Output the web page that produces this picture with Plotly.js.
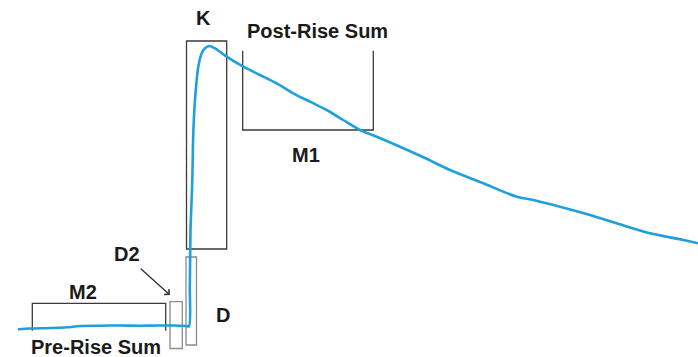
<!DOCTYPE html>
<html>
<head>
<meta charset="utf-8">
<script src="https://cdn.plot.ly/plotly-3.0.1.min.js"></script>
<style>
  html, body { margin: 0; padding: 0; background: #fff; }
  #chart { width: 698px; height: 357px; }
</style>
</head>
<body>
<div id="chart"></div>
<script>
// Time samples of the recorded trace
const time = [18, 30, 50, 67, 80, 100, 120, 140, 160, 175, 186, 189,
  189.8, 190.5, 191.4, 192.3, 193.3, 195, 198.3, 201.7, 205, 209.3, 215, 226.7, 243.3,
  260, 276.7, 293.3, 310, 326.7, 343.3, 360, 376.7, 400, 425, 450, 483.3,
  516.7, 533.3, 560, 590, 616.7, 650, 683.3, 698];

// Signal amplitude at each sample
const signal = [27.7, 28.5, 29, 29.7, 31, 31.3, 31.5, 31.3, 31.5, 31.5, 31, 30.8,
  70, 127, 152, 177, 224, 257, 290.3, 303.7, 308.7, 311, 308.7, 300.3, 290.3,
  282, 273.7, 263.7, 255.3, 247, 237, 227, 220.3, 210.3, 199, 187, 173.7,
  160.3, 157, 150.3, 142, 133.7, 123.7, 117, 113.7];

// Measurement windows: [x0, x1, y0, y1]
const windowK = [186.5, 226.7, 108, 316];
const windowD = [186, 196.5, 12, 100];
const windowD2 = [170, 182.3, 8.5, 55.3];
const bracketM2 = [32.3, 165.7, 26.3, 53.7];   // open at the bottom
const bracketM1 = [242.7, 373.3, 227, 306.3];  // open at the top

// Region labels: [text, x, y]
const labels = [
  ["K", 203, 339],
  ["Post-Rise Sum", 317.5, 326],
  ["M1", 305.8, 202.5],
  ["M2", 83, 65.5],
  ["D2", 126.7, 103],
  ["D", 222.5, 42.5],
  ["Pre-Rise Sum", 95.5, 10]
];

const dark = "#3a3a3a";
const grey = "#8c8c8c";

function rect(w, color) {
  return {type: "rect", xref: "x", yref: "y", x0: w[0], x1: w[1], y0: w[2], y1: w[3],
    line: {color: color, width: 1.3}, fillcolor: "rgba(0,0,0,0)", layer: "below"};
}

const shapes = [
  rect(windowK, dark),
  rect(windowD, grey),
  rect(windowD2, grey),
  {type: "path", xref: "x", yref: "y",
   path: `M${bracketM2[0]},${bracketM2[2]} L${bracketM2[0]},${bracketM2[3]} L${bracketM2[1]},${bracketM2[3]} L${bracketM2[1]},${bracketM2[2]}`,
   line: {color: dark, width: 1.3}, layer: "below"},
  {type: "path", xref: "x", yref: "y",
   path: `M${bracketM1[0]},${bracketM1[3]} L${bracketM1[0]},${bracketM1[2]} L${bracketM1[1]},${bracketM1[2]} L${bracketM1[1]},${bracketM1[3]}`,
   line: {color: dark, width: 1.3}, layer: "below"}
];

const annotations = labels.map(([t, x, y]) => ({
  text: t, x: x, y: y, xref: "x", yref: "y", showarrow: false,
  xanchor: "center", yanchor: "middle",
  font: {family: "Liberation Sans, Arial, sans-serif", size: 20, color: "#1a1a1a", weight: "bold"}
}));

// Pointer from the D2 label to its window
annotations.push({
  x: 170, y: 62, ax: 139.3, ay: 89.7, xref: "x", yref: "y", axref: "x", ayref: "y",
  text: "", showarrow: true, arrowhead: 4, arrowsize: 1, arrowwidth: 1.4,
  arrowcolor: "#333", standoff: 0, startstandoff: 0
});

const trace = {
  x: time, y: signal, type: "scatter", mode: "lines",
  line: {color: "#1f9fdb", width: 2.6, shape: "spline", smoothing: 0.8},
  hoverinfo: "skip"
};

const layout = {
  width: 698, height: 357,
  margin: {l: 0, r: 0, t: 0, b: 0},
  paper_bgcolor: "#ffffff", plot_bgcolor: "#ffffff",
  showlegend: false,
  xaxis: {range: [0, 698], visible: false, fixedrange: true},
  yaxis: {range: [0, 357], visible: false, fixedrange: true},
  shapes: shapes,
  annotations: annotations
};

Plotly.newPlot("chart", [trace], layout, {staticPlot: true, displayModeBar: false});
</script>
</body>
</html>
